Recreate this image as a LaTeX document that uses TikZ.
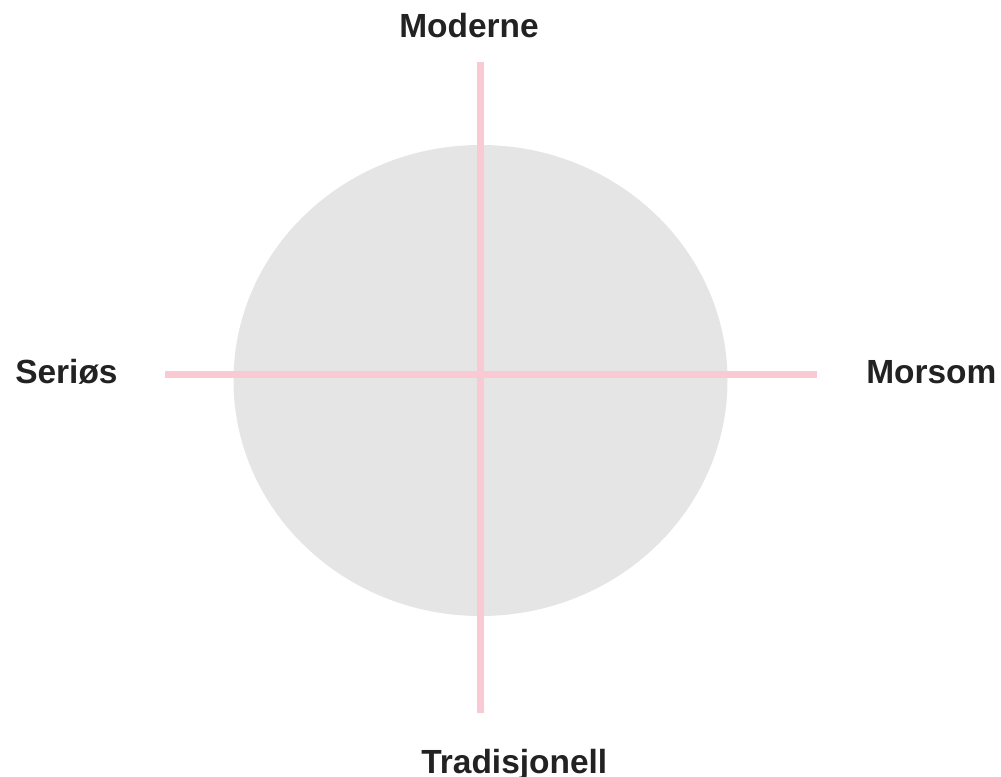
\documentclass[tikz,border=0pt]{standalone}
\usepackage{fontspec}
\setmainfont{Liberation Sans}
\usetikzlibrary{positioning}
\definecolor{myGrey}{HTML}{E5E5E5}
\definecolor{myPink}{HTML}{F9C9D4}
\definecolor{myInk}{HTML}{222222}

\begin{document}
\begin{tikzpicture}[
x=0.75pt, y=-0.75pt,
pole/.style={
inner sep=0pt,
anchor=base west,
text=myInk,
font=\fontsize{25.1}{30}\selectfont\bfseries
},
axis/.style={line width=5pt, myPink}
]

\useasboundingbox (0,0) rectangle (1001,777);

\fill[myGrey] (480.5,380.5) ellipse [x radius=247, y radius=235.5];

\coordinate (top) at (480.5,62);
\coordinate (bottom) at (480.5,713);
\coordinate (left) at (164.5,374.5);
\coordinate (right) at (817,374.5);

\draw[axis] (top) -- (bottom);
\draw[axis] (left) -- (right);


\node[pole] (moderne) at (399,38) {Moderne};

\node[pole] (tradisjonell) at (421,773) {Tradisjonell};

\node[pole] (serios) at (15,384) {Seriøs};

\node[pole] (morsom) at (866,384) {Morsom};

\end{tikzpicture}
\end{document}
